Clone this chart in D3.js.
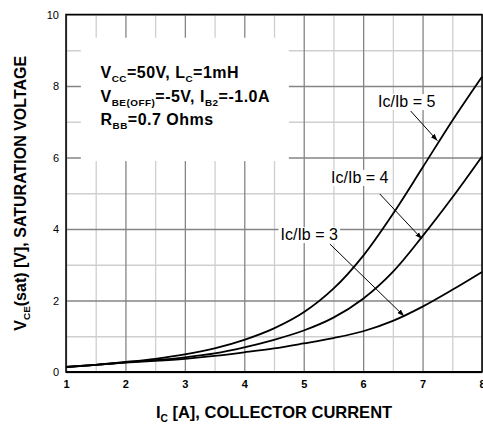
<!DOCTYPE html>
<html>
<head>
<meta charset="utf-8">
<script src="https://cdn.jsdelivr.net/npm/d3@7"></script>
<style>
  body { margin: 0; background: #fff; }
  svg { display: block; font-family: "Liberation Sans", Arial, sans-serif; }
</style>
</head>
<body>
<svg width="483" height="428"></svg>
<script>
// collector current (A)
const ic = [1, 1.5, 2, 2.5, 3, 3.5, 4, 4.5, 5, 5.5, 6, 6.5, 7, 7.5, 8];
// VCE(sat) for each Ic/Ib ratio
const ratio5 = [0.14, 0.2, 0.28, 0.37, 0.49, 0.66, 0.9, 1.22, 1.67, 2.33, 3.25, 4.42, 5.72, 7.03, 8.26];
const ratio4 = [0.14, 0.2, 0.27, 0.33, 0.41, 0.52, 0.69, 0.9, 1.16, 1.52, 2.05, 2.8, 3.8, 4.88, 6.03];
const ratio3 = [0.14, 0.2, 0.26, 0.31, 0.37, 0.45, 0.55, 0.66, 0.8, 0.95, 1.14, 1.43, 1.83, 2.3, 2.8];

const xTicks = [1, 2, 3, 4, 5, 6, 7, 8];
const yTicks = [0, 2, 4, 6, 8, 10];
const xMinor = [1.5, 2.5, 3.5, 4.5, 5.5, 6.5, 7.5];
const yMinor = [1, 3, 5, 7, 9];

// curve labels: text position and arrow (from -> to) in data units
const labels = [
  { text: 'Ic/Ib = 5', x: 6.25, y: 7.41, ax1: 6.80, ay1: 7.30, ax2: 7.25, ay2: 6.47 },
  { text: 'Ic/Ib = 4', x: 5.46, y: 5.29, ax1: 6.28, ay1: 4.98, ax2: 6.99, ay2: 3.72 },
  { text: 'Ic/Ib = 3', x: 4.61, y: 3.69, ax1: 5.44, ay1: 3.58, ax2: 6.69, ay2: 1.56 }
];

const margin = { left: 66, right: 1, top: 14.5, bottom: 56 };
const width = 483 - margin.left - margin.right;
const height = 428 - margin.top - margin.bottom;

const svg = d3.select('svg');
const chart = svg.append('g')
  .attr('transform', `translate(${margin.left}, ${margin.top})`);

const x = d3.scaleLinear().domain([1, 8]).range([0, width]);
const y = d3.scaleLinear().domain([0, 10]).range([height, 0]);

// grid: minor first, then major
function grid(g, axis, color) {
  g.call(axis).call(s => s.select('.domain').remove())
    .selectAll('line').attr('stroke', color).attr('stroke-width', 1.3);
}
chart.append('g').attr('transform', `translate(0, ${height})`)
  .call(g => grid(g, d3.axisBottom(x).tickValues(xMinor).tickSize(-height).tickFormat(''), '#cfcfcf'));
chart.append('g')
  .call(g => grid(g, d3.axisLeft(y).tickValues(yMinor).tickSize(-width).tickFormat(''), '#cfcfcf'));
chart.append('g').attr('transform', `translate(0, ${height})`)
  .call(g => grid(g, d3.axisBottom(x).tickValues(xTicks).tickSize(-height).tickFormat(''), '#858585'));
chart.append('g')
  .call(g => grid(g, d3.axisLeft(y).tickValues(yTicks).tickSize(-width).tickFormat(''), '#858585'));

// legend box
chart.append('rect')
  .attr('x', x(1.25)).attr('y', y(9.35))
  .attr('width', x(4.75) - x(1.25)).attr('height', y(5.9) - y(9.35))
  .attr('fill', '#fff');

// text with subscripts: sub parts drop 4px, next part comes back up
function rich(sel, parts, size) {
  let shift = 0;
  parts.forEach(p => {
    const ts = sel.append('tspan').text(p.t);
    if (p.sub) {
      ts.attr('font-size', size * 0.62).attr('dy', 4);
      shift = -4;
    } else if (shift) {
      ts.attr('dy', shift);
      shift = 0;
    }
  });
}

const legendLines = [
  [{ t: 'V' }, { t: 'CC', sub: 1 }, { t: '=50V, L' }, { t: 'C', sub: 1 }, { t: '=1mH' }],
  [{ t: 'V' }, { t: 'BE(OFF)', sub: 1 }, { t: '=-5V, I' }, { t: 'B2', sub: 1 }, { t: '=-1.0A' }],
  [{ t: 'R' }, { t: 'BB', sub: 1 }, { t: '=0.7 Ohms' }]
];
legendLines.forEach((parts, i) => {
  const t = chart.append('text')
    .attr('x', x(1.58)).attr('y', 63.5 + i * 23.5)
    .attr('font-size', 16).attr('font-weight', 'bold').attr('fill', '#000')
    .attr('letter-spacing', 0.5);
  rich(t, parts, 16);
});

// curves
const line = d3.line().x(d => x(d[0])).y(d => y(d[1])).curve(d3.curveCatmullRom.alpha(0.5));
[ratio5, ratio4, ratio3].forEach(vals => {
  chart.append('path')
    .datum(ic.map((c, i) => [c, vals[i]]))
    .attr('d', line)
    .attr('fill', 'none').attr('stroke', '#000').attr('stroke-width', 1.8);
});

// arrowheads
svg.append('defs').append('marker')
  .attr('id', 'arr').attr('viewBox', '0 0 10 10')
  .attr('refX', 10).attr('refY', 5)
  .attr('markerWidth', 7).attr('markerHeight', 7)
  .attr('markerUnits', 'userSpaceOnUse')
  .attr('orient', 'auto')
  .append('path').attr('d', 'M0,1.5L10,5L0,8.5Z').attr('fill', '#000');

labels.forEach(l => {
  const t = chart.append('text')
    .attr('x', x(l.x)).attr('y', y(l.y))
    .attr('font-size', 16).attr('fill', '#000').text(l.text);
  const b = t.node().getBBox();
  chart.insert('rect', () => t.node())
    .attr('x', b.x - 2).attr('y', b.y + 1).attr('width', b.width + 4).attr('height', b.height - 1)
    .attr('fill', '#fff');
  chart.append('line')
    .attr('x1', x(l.ax1)).attr('y1', y(l.ay1))
    .attr('x2', x(l.ax2)).attr('y2', y(l.ay2))
    .attr('stroke', '#000').attr('stroke-width', 1)
    .attr('marker-end', 'url(#arr)');
});

// frame
chart.append('rect')
  .attr('width', width).attr('height', height)
  .attr('fill', 'none').attr('stroke', '#000').attr('stroke-width', 1.5);
chart.append('line')
  .attr('x1', 0).attr('x2', width).attr('y1', height).attr('y2', height)
  .attr('stroke', '#000').attr('stroke-width', 2.2);

// tick labels
chart.append('g')
  .call(d3.axisLeft(y).tickValues(yTicks).tickSize(0).tickPadding(7))
  .call(g => g.select('.domain').remove())
  .selectAll('text').attr('font-size', 11).attr('fill', '#000')
  .attr('font-family', '"Liberation Sans", Arial, sans-serif');
chart.append('g').attr('transform', `translate(0, ${height})`)
  .call(d3.axisBottom(x).tickValues(xTicks).tickFormat(d3.format('d')).tickSize(0).tickPadding(8))
  .call(g => g.select('.domain').remove())
  .selectAll('text').attr('font-size', 11).attr('font-weight', 'bold').attr('fill', '#000')
  .attr('font-family', '"Liberation Sans", Arial, sans-serif');

// axis titles
const xt = svg.append('text')
  .attr('x', margin.left + width / 2).attr('y', 418)
  .attr('text-anchor', 'middle').attr('font-size', 16.5).attr('font-weight', 'bold');
rich(xt, [{ t: 'I' }, { t: 'C', sub: 1 }, { t: ' [A], COLLECTOR CURRENT' }], 16.5);

const yt = svg.append('text')
  .attr('transform', `translate(26, ${margin.top + height / 2}) rotate(-90)`)
  .attr('text-anchor', 'middle').attr('font-size', 16).attr('font-weight', 'bold');
rich(yt, [{ t: 'V' }, { t: 'CE', sub: 1 }, { t: '(sat) [V], SATURATION VOLTAGE' }], 16);
</script>
</body>
</html>
